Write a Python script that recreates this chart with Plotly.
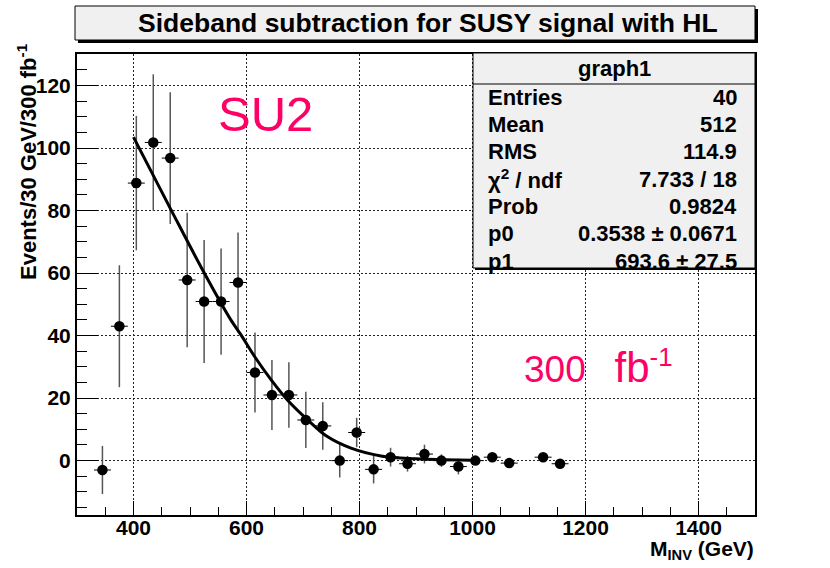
import plotly.graph_objects as go

# data (30 GeV bins)
mass = [345, 375, 405, 435, 465, 495, 525, 555, 585, 615, 645, 675, 705, 735,
        765, 795, 825, 855, 885, 915, 945, 975, 1005, 1035, 1065, 1125, 1155]
events = [-3.0, 43.0, 88.8, 101.8, 96.8, 57.8, 50.9, 50.9, 57.0, 28.2, 21.0, 21.0, 13.0, 11.1,
          0.0, 9.0, -2.8, 1.1, -1.0, 2.1, 0.0, -1.9, 0.0, 1.1, -0.8, 1.1, -1.0]
events_err = [7.7, 19.5, 21.5, 21.8, 21.1, 21.5, 19.7, 17.0, 16.0, 12.8, 11.2, 10.5, 9.0, 7.6,
              5.4, 4.7, 4.5, 3.0, 2.5, 3.0, 2.0, 2.5, 1.0, 1.0, 0.8, 0.8, 0.6]
bin_half = [15] * len(mass)

# fit curve
fit_x = [400, 466, 525, 572, 590, 614, 643, 672, 708, 743, 785, 838, 900, 950, 1000]
fit_y = [103.5, 80.4, 60.1, 45.1, 40.3, 33.4, 26.0, 19.5, 13.1, 7.7, 4.0, 1.5, 0.6, 0.3, 0.1]

stat_labels = ["Entries", "Mean", "RMS", "\u03c7<sup>2</sup> / ndf", "Prob", "p0", "p1"]
stat_values = ["40", "512", "114.9", "7.733 / 18", "0.9824",
               "0.3538 \u00b1 0.0671", "693.6 \u00b1 27.5"]

W, H = 830, 568
L, R, T, B = 77, 755, 54, 515
FONT = "Liberation Sans, Arial, sans-serif"
PINK = "#fe0066"


def px(x):
    return (x - L) / (R - L)


def py(y):
    return (B - y) / (B - T)


def bold(size):
    return dict(family=FONT, size=size, color="black", weight="bold")


fig = go.Figure()

fig.add_trace(go.Scatter(
    x=mass, y=events, mode="markers",
    marker=dict(color="black", size=10.5),
    error_y=dict(type="data", array=events_err, color="#555555", thickness=1.5, width=0),
    error_x=dict(type="data", array=bin_half, color="black", thickness=1, width=0),
    showlegend=False
))

fig.add_trace(go.Scatter(
    x=fit_x, y=fit_y, mode="lines",
    line=dict(color="black", width=3, shape="spline", smoothing=1),
    showlegend=False
))

shapes = []
# title box with shadow
shapes.append(dict(type="rect", xref="paper", yref="paper", x0=px(78), x1=px(758), y0=py(9), y1=py(43),
                   fillcolor="black", line=dict(width=0), layer="above"))
shapes.append(dict(type="rect", xref="paper", yref="paper", x0=px(75), x1=px(755), y0=py(6), y1=py(40),
                   fillcolor="#f0f0f0", line=dict(color="black", width=1), layer="above"))
# stats box
shapes.append(dict(type="rect", xref="paper", yref="paper", x0=px(475), x1=px(757), y0=py(55), y1=py(270),
                   fillcolor="black", line=dict(width=0), layer="above"))
shapes.append(dict(type="rect", xref="paper", yref="paper", x0=px(473), x1=px(755), y0=py(53), y1=py(268),
                   fillcolor="#f0f0f0", line=dict(color="black", width=1), layer="above"))
shapes.append(dict(type="line", xref="paper", yref="paper", x0=px(473), x1=px(755), y0=py(84), y1=py(84),
                   line=dict(color="black", width=1), layer="above"))

ann = []
ann.append(dict(text="Sideband subtraction for SUSY signal with HL", xref="paper", yref="paper",
                x=px(428), y=py(23), xanchor="center", yanchor="middle", showarrow=False,
                font=bold(26.5)))
ann.append(dict(text="graph1", xref="paper", yref="paper", x=px(614), y=py(68),
                xanchor="center", yanchor="middle", showarrow=False, font=bold(22)))
for i, (lab, val) in enumerate(zip(stat_labels, stat_values)):
    yy = 97 + 27.35 * i
    ann.append(dict(text=lab, xref="paper", yref="paper", x=px(486), y=py(yy),
                    xanchor="left", yanchor="middle", showarrow=False, font=bold(22)))
    ann.append(dict(text=val, xref="paper", yref="paper", x=px(739), y=py(yy),
                    xanchor="right", yanchor="middle", showarrow=False, font=bold(22)))

ann.append(dict(text="SU2", xref="paper", yref="paper", x=px(265), y=py(114),
                xanchor="center", yanchor="middle", showarrow=False,
                font=dict(family=FONT, size=49, color=PINK, weight="normal")))
ann.append(dict(text="300\u2002 <span style='font-size:42px'>fb</span><sup>-1</sup>",
                xref="paper", yref="paper", x=px(522), y=py(367),
                xanchor="left", yanchor="middle", showarrow=False,
                font=dict(family=FONT, size=37, color=PINK, weight="normal")))

# axis titles
ann.append(dict(text="Events/30 GeV/300 fb<sup>-1</sup>", xref="paper", yref="paper",
                x=px(27), y=py(162), xanchor="center", yanchor="middle", textangle=-90,
                showarrow=False, font=bold(22)))
ann.append(dict(text="M<sub>INV</sub> (GeV)", xref="paper", yref="paper",
                x=px(756), y=py(550), xanchor="right", yanchor="middle",
                showarrow=False, font=bold(21)))

fig.update_layout(
    width=W, height=H,
    margin=dict(l=L, r=W - R, t=T, b=H - B, pad=0),
    paper_bgcolor="white", plot_bgcolor="white",
    shapes=shapes, annotations=ann,
    font=dict(family=FONT, size=21, color="black"),
)

fig.update_xaxes(
    range=[300, 1500], tick0=0, dtick=200, ticks="inside", ticklen=14, tickwidth=1,
    tickcolor="black", showline=True, linecolor="black", linewidth=2, mirror=True,
    showgrid=True, gridcolor="#222222", gridwidth=1, griddash="2px,2px", zeroline=False,
    tickfont=bold(21), ticklabelstandoff=-7,
    minor=dict(dtick=50, ticks="inside", ticklen=8, tickcolor="black", showgrid=False),
)
fig.update_yaxes(
    range=[-17.4, 130.1], tick0=0, dtick=20, ticks="inside", ticklen=21, tickwidth=1,
    tickcolor="black", showline=True, linecolor="black", linewidth=2, mirror=True,
    showgrid=True, gridcolor="#222222", gridwidth=1, griddash="2px,2px", zeroline=False,
    tickfont=bold(21),
    minor=dict(dtick=5, ticks="inside", ticklen=10, tickcolor="black", showgrid=False),
)

fig.write_html("out.html", config={"displayModeBar": False},
               post_script="document.body.style.margin='0px';")
